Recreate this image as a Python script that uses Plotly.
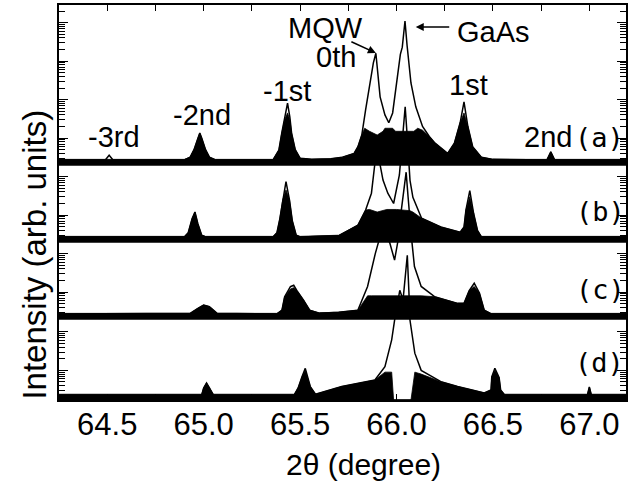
import math
import plotly.graph_objects as go

# ---------------- data ----------------
x_tick_vals = [64.5, 65.0, 65.5, 66.0, 66.5, 67.0]
x_tick_labels = ["64.5", "65.0", "65.5", "66.0", "66.5", "67.0"]
x_minor_vals = [64.75, 65.25, 65.75, 66.25, 66.75]

panel_names = ["(a)", "(b)", "(c)", "(d)"]
base_level = [2.0, 2.0, 2.0, 1.7]          # noise floor (panel baseline) intensity

# (a) spectrum envelope
x_a = [64.25, 64.49, 64.51, 64.53, 64.90, 64.93, 64.95, 64.97, 64.98, 64.99, 65.01, 65.03, 65.06,
       65.36, 65.39, 65.405, 65.42, 65.435, 65.447, 65.456, 65.475, 65.50, 65.56,
       65.66, 65.72, 65.78, 65.80, 65.82, 65.84, 65.86, 65.88, 65.893, 65.903,
       65.915, 65.94, 65.96, 65.98, 66.00, 66.02, 66.03, 66.044, 66.055, 66.062,
       66.075, 66.10, 66.135, 66.17, 66.20, 66.265, 66.30, 66.33, 66.35, 66.37,
       66.395, 66.44, 66.50, 66.78, 66.80, 66.82, 67.19]
I_a = [2.7, 2.7, 3.6, 2.7, 2.7, 3.2, 5, 10, 13.5, 10, 5, 3.2, 2.7,
       2.7, 4.9, 13.5, 35, 81, 35, 13.5, 5, 3, 2.8,
       2.9, 3.2, 4, 6, 12, 55, 220, 900, 1600, 500,
       118, 40, 25, 45, 270, 1500, 2300, 11000, 2500, 1000,
       270, 65, 20, 11, 7.4, 4, 7.4, 25, 87, 20,
       6, 3.2, 2.8, 2.7, 4.4, 2.7, 2.7]
# (a) top edge of the dense (black) noise region
band_x_a = [64.25, 64.90, 64.93, 64.95, 64.97, 64.98, 64.99, 65.01, 65.03, 65.06,
            65.36, 65.39, 65.405, 65.42, 65.435, 65.447, 65.456, 65.475, 65.50, 65.56,
            65.66, 65.72, 65.78, 65.80, 65.82, 65.835, 65.86, 65.90, 65.93, 65.94,
            65.96, 65.98, 65.995, 66.09, 66.11, 66.135, 66.17, 66.20, 66.265, 66.30,
            66.33, 66.35, 66.37, 66.395, 66.44, 66.50, 66.78, 66.80, 66.82, 67.19]
band_I_a = [2.8, 2.8, 3.2, 5, 10, 13.5, 10, 5, 3.2, 2.8,
            2.8, 4.9, 13.5, 30, 45, 30, 13.5, 5, 3, 2.8,
            2.9, 3.2, 4, 6, 12, 18, 15, 12, 15, 18,
            18, 18, 15, 15, 18, 16, 11, 7.4, 4, 7.4,
            25, 45, 20, 6, 3.2, 2.8, 2.8, 4.4, 2.8, 2.8]

# (b)
x_b = [64.25, 64.90, 64.92, 64.94, 64.955, 64.97, 64.99, 65.01,
       65.36, 65.38, 65.395, 65.41, 65.427, 65.445, 65.46, 65.48, 65.50,
       65.70, 65.80, 65.84, 65.87, 65.89, 65.90, 65.915, 65.93, 65.955, 65.985,
       66.015, 66.03, 66.045, 66.055, 66.062, 66.07, 66.085, 66.13, 66.23, 66.33,
       66.35, 66.36, 66.38, 66.40, 66.42, 66.44, 67.19]
I_b = [2.7, 2.7, 3.5, 8, 12, 6, 3, 2.7,
       2.7, 3.5, 8, 25, 74, 25, 7, 3, 2.7,
       2.9, 5.5, 13.5, 37, 270, 1200, 200, 81, 37, 20,
       110, 800, 6500, 1200, 300, 80, 29, 8.3, 4.9, 3.6,
       4.9, 13.5, 43, 11, 4, 2.7, 2.7]
band_x_b = [64.25, 64.90, 64.92, 64.94, 64.955, 64.97, 64.99, 65.01,
            65.36, 65.38, 65.395, 65.41, 65.427, 65.445, 65.46, 65.48, 65.50,
            65.70, 65.80, 65.84, 65.86, 65.90, 65.95, 65.985, 66.00, 66.07, 66.085,
            66.13, 66.23, 66.33, 66.35, 66.36, 66.38, 66.40, 66.42, 66.44, 67.19]
band_I_b = [2.8, 2.8, 3.5, 8, 12, 6, 3, 2.8,
            2.8, 3.5, 8, 25, 45, 25, 7, 3, 2.8,
            3.0, 5.5, 13.5, 14, 12, 14, 14, 14, 13, 12,
            8.3, 4.9, 3.6, 4.9, 13.5, 30, 11, 4, 2.8, 2.8]

# (c)
x_c = [64.25, 64.93, 64.97, 65.00, 65.03, 65.07,
       65.38, 65.406, 65.42, 65.45, 65.467, 65.483, 65.518, 65.55, 65.60, 65.70,
       65.80, 65.85, 65.89, 65.915, 65.94, 65.965, 65.99, 66.01, 66.025, 66.04,
       66.05, 66.06, 66.068, 66.077, 66.093, 66.128, 66.197, 66.317, 66.35, 66.377,
       66.403, 66.43, 66.455, 66.49, 67.19]
I_c = [2.7, 2.8, 3.8, 4.6, 4.2, 2.8,
       2.7, 3.4, 7.6, 13.8, 15, 11, 6.2, 3.4, 2.8, 3.0,
       3.4, 14, 100, 280, 370, 190, 68, 250, 1350, 5000,
       13000, 3000, 800, 280, 46, 14, 7.6, 5.1, 5.1, 11,
       17, 9.4, 3.4, 2.7, 2.7]
band_x_c = [64.25, 64.93, 64.97, 65.00, 65.03, 65.07,
            65.38, 65.406, 65.42, 65.45, 65.467, 65.483, 65.518, 65.55, 65.60, 65.70,
            65.80, 65.85, 65.87, 66.11, 66.128, 66.197, 66.317, 66.35, 66.377, 66.403,
            66.43, 66.455, 66.49, 67.19]
band_I_c = [2.8, 2.8, 3.8, 4.6, 4.2, 2.8,
            2.8, 3.4, 7.6, 12, 13, 11, 6.2, 3.4, 2.9, 3.0,
            3.4, 8, 8, 8, 8, 7.6, 5.1, 5.1, 11, 14,
            9.4, 3.4, 2.8, 2.8]

# (d)
x_d = [64.25, 64.99, 65.00, 65.015, 65.03, 65.05,
       65.47, 65.49, 65.51, 65.527, 65.553, 65.58,
       65.716, 65.888, 65.94, 65.975, 65.99, 66.005, 66.017, 66.034, 66.045, 66.056,
       66.064, 66.07, 66.095, 66.128, 66.23, 66.317, 66.455, 66.49, 66.494, 66.51,
       66.532, 66.54, 66.56, 66.99, 67.0, 67.01, 67.19]
I_d = [2.3, 2.3, 3.5, 4.7, 3.5, 2.3,
       2.3, 3.5, 6.8, 11.3, 3.8, 2.4,
       3.8, 5.6, 12.5, 62, 200, 600, 1200, 680, 2500, 9800,
       1200, 200, 28, 10, 5.1, 3.8, 2.6, 3.1, 6.8, 11.3,
       6.5, 3.1, 2.3, 2.3, 3.7, 2.3, 2.3]
band_x_d = [64.25, 64.99, 65.00, 65.015, 65.03, 65.05,
            65.47, 65.49, 65.51, 65.527, 65.553, 65.58,
            65.716, 65.888, 65.94, 65.975, 65.985, 66.075, 66.095, 66.128, 66.23, 66.317,
            66.455, 66.49, 66.494, 66.51, 66.532, 66.54, 66.56, 66.99, 67.0, 67.01, 67.19]
band_I_d = [2.4, 2.4, 3.5, 4.7, 3.5, 2.4,
            2.4, 3.5, 6.8, 10, 3.8, 2.4,
            3.8, 5.6, 9, 9, 1.7, 1.7, 9, 8, 5.1, 3.8,
            2.6, 3.1, 6.8, 10, 6.5, 3.1, 2.4, 2.4, 3.7, 2.4, 2.4]

series = [(x_a, I_a, band_x_a, band_I_a), (x_b, I_b, band_x_b, band_I_b),
          (x_c, I_c, band_x_c, band_I_c), (x_d, I_d, band_x_d, band_I_d)]

# ---------------- layout geometry ----------------
W, H = 631, 483
PL, PR, PT, PB = 59, 628, 5, 400            # plot area in pixels
X_RANGE = [64.25, 67.19]
panel_top_px = [5, 165, 242, 319]
panel_bot_px = [165, 242, 319, 400]
DEC = 38.5                                  # pixels per decade
FONT = "Liberation Sans, Arial, sans-serif"

fig = go.Figure()
layout_axes = {}
for k, (xs, ys, bxs, bys) in enumerate(series):
    yname = "y" if k == 0 else f"y{k+1}"
    axkey = "yaxis" if k == 0 else f"yaxis{k+1}"
    base = base_level[k]
    lb = math.log10(base)
    lo = lb - (PB - panel_bot_px[k]) / DEC
    hi = lo + (PB - PT) / DEC
    top_log = lb + (panel_bot_px[k] - panel_top_px[k]) / DEC
    majors = [10 ** n for n in range(math.floor(lb) + 1, math.floor(top_log) + 1)]
    minors = []
    for n in range(math.floor(lb), math.ceil(top_log)):
        for m in range(2, 10):
            v = m * 10 ** n
            if lb + 0.02 < math.log10(v) < top_log - 0.05:
                minors.append(v)
    # panel baseline
    fig.add_trace(go.Scatter(x=X_RANGE, y=[base, base], yaxis=yname, mode="lines",
                             line=dict(color="black", width=1.6), hoverinfo="skip",
                             showlegend=False))
    # dense noise region, filled down to the baseline
    fig.add_trace(go.Scatter(x=bxs, y=bys, yaxis=yname, mode="lines", fill="tonexty",
                             fillcolor="black", line=dict(color="black", width=0.8),
                             hoverinfo="skip", showlegend=False))
    # spectrum
    fig.add_trace(go.Scatter(x=xs, y=ys, yaxis=yname, mode="lines",
                             line=dict(color="black", width=1.5), name=panel_names[k],
                             showlegend=False))
    ax = dict(type="log", range=[lo, hi], domain=[0, 1], showgrid=False, zeroline=False,
              showticklabels=False, ticks="inside", tickvals=majors, ticklen=9,
              tickwidth=1.4, tickcolor="black",
              minor=dict(tickvals=minors, ticks="inside", ticklen=6, tickwidth=1.2,
                         tickcolor="black", showgrid=False),
              mirror="ticks", showline=(k == 0), linecolor="black", linewidth=1.6,
              anchor="x")
    if k > 0:
        ax["overlaying"] = "y"
    layout_axes[axkey] = ax

fig.update_layout(**layout_axes)
fig.update_layout(
    width=W, height=H,
    margin=dict(l=PL, r=W - PR, t=PT, b=H - PB),
    paper_bgcolor="white", plot_bgcolor="white",
    font=dict(family=FONT, color="black"),
    xaxis=dict(range=X_RANGE, tickvals=x_tick_vals, ticktext=x_tick_labels,
               ticks="inside", ticklen=6, tickwidth=1.3, tickcolor="black",
               minor=dict(tickvals=x_minor_vals, ticks="inside", ticklen=6,
                          tickwidth=1.3, tickcolor="black", showgrid=False),
               showline=True, linecolor="black", linewidth=1.6, mirror="ticks",
               showgrid=False, zeroline=False, ticklabelstandoff=-4,
               tickfont=dict(size=31, family=FONT)),
)

def px_to_x(px):
    return X_RANGE[0] + (px - PL) / (PR - PL) * (X_RANGE[1] - X_RANGE[0])

def py_to_paper(py):
    return (PB - py) / (PB - PT)

labels = [("-3rd", 114, 137), ("-2nd", 203, 115), ("-1st", 288, 91), ("MQW", 326, 28),
          ("0th", 337, 57), ("GaAs", 495, 32), ("1st", 470, 85), ("2nd", 550, 137)]
for txt, px, py in labels:
    fig.add_annotation(x=px_to_x(px), y=py_to_paper(py), xref="x", yref="paper",
                       xanchor="center", yanchor="middle",
                       text=txt, showarrow=False, font=dict(size=29, family=FONT))

panel_label_pos = [(601, 137), (602, 211), (602, 289), (601, 362)]
for name, (px, py) in zip(panel_names, panel_label_pos):
    fig.add_annotation(x=px_to_x(px), y=py_to_paper(py), xref="x", yref="paper",
                       xanchor="center", yanchor="middle",
                       text=name, showarrow=False,
                       font=dict(size=27, family="DejaVu Sans Mono, monospace"))

# arrows
fig.add_annotation(x=px_to_x(377), y=py_to_paper(53), xref="x", yref="paper", text="",
                   showarrow=True, ax=-26, ay=-12, arrowhead=2, arrowsize=1,
                   arrowwidth=1.6, arrowcolor="black")
fig.add_annotation(x=px_to_x(417), y=py_to_paper(27), xref="x", yref="paper", text="",
                   showarrow=True, ax=35, ay=0, arrowhead=2, arrowsize=1,
                   arrowwidth=1.6, arrowcolor="black")

# axis titles
fig.add_annotation(x=(33.5 - PL) / (PR - PL), y=py_to_paper(255), xref="paper", yref="paper",
                   xanchor="center", yanchor="middle",
                   text="Intensity (arb. units)", textangle=-90, showarrow=False,
                   font=dict(size=33, family=FONT))
fig.add_annotation(x=(365 - PL) / (PR - PL), y=py_to_paper(464), xref="paper", yref="paper",
                   xanchor="center", yanchor="middle",
                   text="2θ (degree)", showarrow=False, font=dict(size=30, family=FONT))

fig.write_html("out.html")
